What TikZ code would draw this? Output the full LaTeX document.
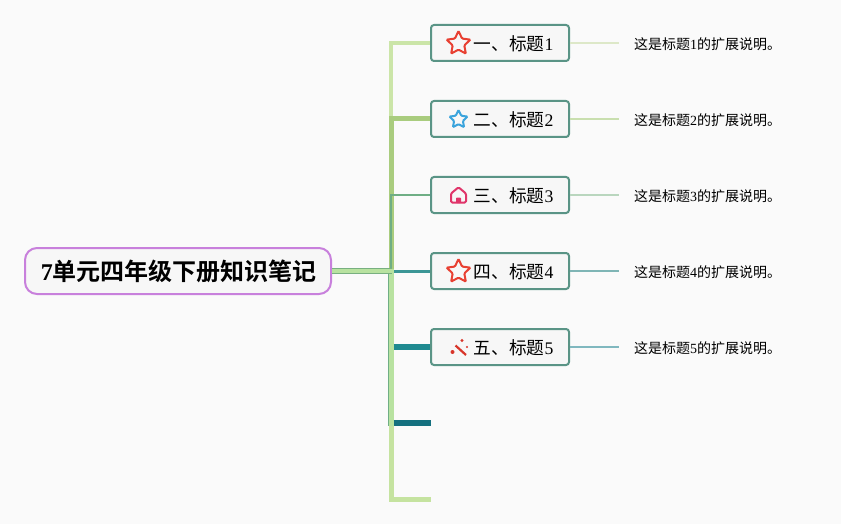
\documentclass[tikz,border=0pt]{standalone}
\usepackage{fontspec}
\setmainfont{Liberation Serif}
\newfontfamily\cjk{Noto Sans CJK SC}
\newfontfamily\cjkb{Noto Sans CJK SC Bold}
\usetikzlibrary{shapes.geometric}
\definecolor{bgc}{HTML}{FAFAFA}
\definecolor{boxfill}{HTML}{F7F7F7}
\definecolor{boxline}{HTML}{5A9486}
\definecolor{rootline}{HTML}{C880DC}
\definecolor{wandc}{HTML}{D8352A}
\definecolor{housec}{HTML}{E0356A}
\definecolor{starred}{HTML}{E84032}
\definecolor{starblue}{HTML}{3BA4DC}
\definecolor{brA}{HTML}{CBE5A8}
\definecolor{brB}{HTML}{A9CC7E}
\definecolor{brC}{HTML}{6FAE85}
\definecolor{brD}{HTML}{3C9696}
\definecolor{brE}{HTML}{1F8A90}
\definecolor{brF}{HTML}{14707F}
\definecolor{brG}{HTML}{C5E3A0}
\definecolor{rootfill}{HTML}{B8E2A0}
\definecolor{rootedge}{HTML}{78B080}
\definecolor{exA}{HTML}{DDE8C8}
\definecolor{exB}{HTML}{C9DFAF}
\definecolor{exC}{HTML}{B9D6BE}
\definecolor{exD}{HTML}{7FB5B5}
\definecolor{exE}{HTML}{80B8BF}
\tikzset{
  rootbox/.style={draw=rootline,line width=2pt,fill=boxfill,rounded corners=12pt,minimum width=306pt,minimum height=46pt,inner sep=0pt,font=\fontsize{24}{24}\selectfont},
  topicbox/.style={draw=boxline,line width=2pt,fill=boxfill,rounded corners=3pt,minimum width=138pt,minimum height=36pt,inner sep=0pt},
  topictext/.style={anchor=west,inner sep=0pt,font=\fontsize{17.7}{18}\selectfont},
  exttext/.style={anchor=west,inner sep=0pt,font=\fontsize{14}{14}\selectfont},
  icostar/.style={star,star points=5,star point ratio=2.05,draw=#1,fill=none,line width=2pt,inner sep=0pt,rounded corners=1pt},
  spark/.style={circle,fill=wandc,inner sep=0pt,minimum size=#1},
  extline/.style={line width=2pt},
}
\begin{document}
\begin{tikzpicture}[x=1pt,y=-1pt]
\useasboundingbox[fill=bgc] (0,0) rectangle (841,524);
% coordinates
\coordinate (J) at (391,271);
\coordinate (e6) at (431,423);
\coordinate (e7) at (431,499);
\coordinate (T6) at (391,423);
\coordinate (T6end) at (391,425.7);
\coordinate (T7) at (391,499);
\foreach \n/\y in {1/43,2/119,3/195,4/271,5/347}{
  \coordinate (x\n) at (619,\y);
}
% nodes
\node[rootbox] (root) at (178,271) {\hspace{1.5pt}\raisebox{-1.5pt}{\textbf{7}{\cjkb 单元四年级下册知识笔记}}};
\foreach \n/\y/\t in {1/43/一,2/119/二,3/195/三,4/271/四,5/347/五}{
  \node[topicbox] (b\n) at (500,\y) {};
  \node[topictext] (t\n) at (473.5,\y+1) {{\cjk \t、标题}\n};
  \node[exttext] (d\n) at (634,\y+1) {{\cjk 这是标题}\n{\cjk 的扩展说明。}};
}
% connectors
\draw[line width=5pt,brG] (J) -- (T7) -- (e7);
\draw[line width=3.2pt,brA] (J) |- (b1.west);
\draw[line width=5pt,brB] (J) |- (b2.west);
\draw[line width=2pt,brC] (J) |- (b3.west);
\draw[line width=5.4pt,rootfill] (J) -- (T6end);
\draw[line width=1.2pt,brC] ([xshift=-2.4pt]J) -- ([xshift=-2.4pt]T6end);
\draw[line width=3pt,brD] ([xshift=2.5pt]J) -- (b4.west);
\draw[line width=6pt,brE] ([xshift=2.5pt]J |- b5.west) -- (b5.west);
\draw[line width=6pt,brF] ([xshift=2.5pt]T6) -- (e6);
\draw[line width=6pt,rootedge] (root.east) -- ([xshift=1pt]J);
\draw[line width=4pt,rootfill] (root.east) -- ([xshift=2.5pt]J);
% extension lines
\draw[extline,exA] (b1.east) -- (x1);
\draw[extline,exB] (b2.east) -- (x2);
\draw[extline,exC] (b3.east) -- (x3);
\draw[extline,exD] (b4.east) -- (x4);
\draw[extline,exE] (b5.east) -- (x5);
% icons
\node[icostar=starred,minimum size=25pt] (ic1) at (458.5,43.5) {};
\node[icostar=starblue,minimum size=19pt] (ic2) at (458.5,119.5) {};
\node[icostar=starred,minimum size=25pt] (ic4) at (458.5,271.5) {};
\draw[housec,line width=2pt,line join=round,rounded corners=1.2pt] (451,193.5) -- (458.5,187.3) -- (466,193.5) -- (466,202.5) -- (451,202.5) -- cycle;
\fill[housec,rounded corners=0.8pt] (456,203) -- (456,197.5) -- (461,197.5) -- (461,203) -- cycle;
\draw[wandc,line width=2.2pt] (455.5,345.5) -- (466,355);
\node[spark=3.4pt] (s1) at (462,340.5) {};
\node[spark=4pt] (s2) at (452.5,352) {};
\node[spark=2.4pt] (s3) at (467,347) {};
\end{tikzpicture}
\end{document}
